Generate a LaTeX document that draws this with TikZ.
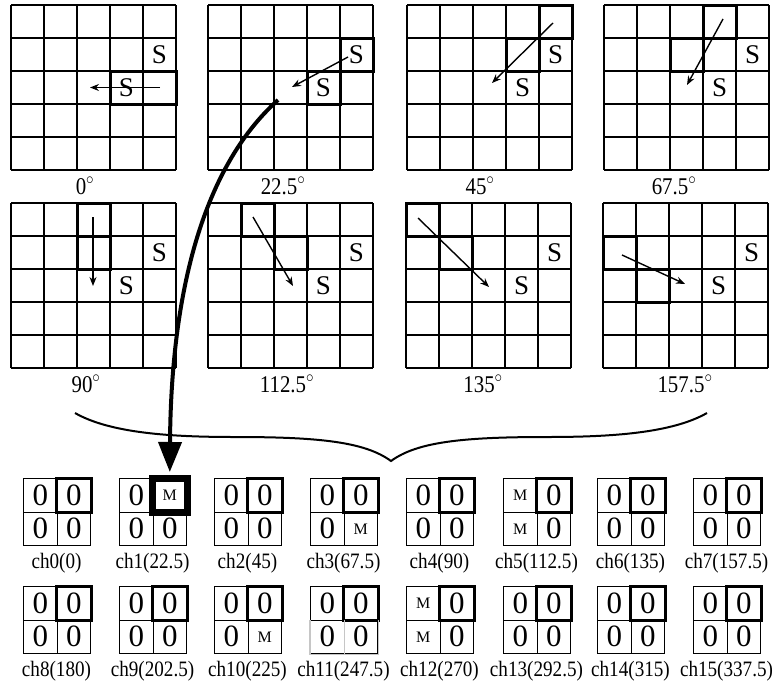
\documentclass[tikz,border=0pt]{standalone}
\usepackage{fontspec}
\usepackage{graphicx}
\setmainfont{Liberation Serif}
\usetikzlibrary{arrows.meta}
\tikzset{
  gridline/.style={line width=1.1pt, black},
  boldcell/.style={line width=3pt, line join=miter},
  sarrow/.style={line width=1.4pt, -{Stealth[length=9pt,width=7pt]}},
  bigarrow/.style={line width=4pt, -{Triangle[length=30pt,width=23pt]}},
  bracepath/.style={line width=2pt},
  slabel/.style={font=\fontsize{27}{27}\selectfont, inner sep=0pt},
  anglabel/.style={font=\fontsize{24}{24}\selectfont, inner sep=0pt, anchor=base},
  chlabel/.style={font=\fontsize{22}{22}\selectfont, inner sep=0pt},
  cellbox/.style={draw, line width=1.1pt, minimum size=33.5pt, inner sep=0pt, anchor=north west},
}
\newcommand\cond[1]{\scalebox{0.87}[1]{#1}}
\newcommand\zz{{\fontsize{31}{31}\selectfont 0}}
\newcommand\mm{{\fontsize{16}{16}\selectfont M}}
\newcommand\pixgrid{%
  \foreach \k in {0,...,5}{
    \draw[gridline] ({33*\k},0) -- ({33*\k},165);
    \draw[gridline] (0,{33*\k}) -- (165,{33*\k});
  }}
\newcommand\chbox[8]{%
  \node[cellbox] (#3tl) at ({#1},{#2}) {#4};
  \node[cellbox] (#3tr) at ({#1+33.5},{#2}) {#5};
  \node[cellbox] (#3bl) at ({#1},{#2+33.5}) {#6};
  \node[cellbox] (#3br) at ({#1+33.5},{#2+33.5}) {#7};
  \draw[boldcell] (#3tr.north west) rectangle (#3tr.south east);
  \node[chlabel] (#3lab) at ({#1+33.5},{#2+85}) {\cond{#8}};
}
\begin{document}
\begin{tikzpicture}[x=1pt,y=-1pt]
\useasboundingbox[fill=white] (0,0) rectangle (778,688);

% ---- 0 deg
\begin{scope}[shift={(11,5)}]
  \pixgrid
  \draw[boldcell] (99,66) rectangle (165,99);
  \node[slabel] (g0sa) at (148.5,49.5) {S};
  \node[slabel] (g0sb) at (115.5,82.5) {S};
  \coordinate (g0a) at (149,82.5); \coordinate (g0b) at (79,82.5);
  \draw[sarrow] (g0a) -- (g0b);
  \node[anglabel] (g0lab) at (74,189) {\cond{0$^{\circ}$}};
\end{scope}
% ---- 22.5 deg
\begin{scope}[shift={(208,5)}]
  \pixgrid
  \draw[boldcell] (132,33) rectangle (165,66);
  \draw[boldcell] (99,66) rectangle (132,99);
  \node[slabel] (g1sa) at (148.5,49.5) {S};
  \node[slabel] (g1sb) at (115.5,82.5) {S};
  \coordinate (g1a) at (140,52); \coordinate (g1b) at (84,82);
  \draw[sarrow] (g1a) -- (g1b);
  \node[anglabel] (g1lab) at (75,189) {\cond{22.5$^{\circ}$}};
  \coordinate (bigstart) at (70,95);
\end{scope}
% ---- 45 deg
\begin{scope}[shift={(407,5)}]
  \pixgrid
  \draw[boldcell] (132,0) rectangle (165,33);
  \draw[boldcell] (99,33) rectangle (132,66);
  \node[slabel] (g2sa) at (148.5,49.5) {S};
  \node[slabel] (g2sb) at (115.5,82.5) {S};
  \coordinate (g2a) at (146,18); \coordinate (g2b) at (85,78);
  \draw[sarrow] (g2a) -- (g2b);
  \node[anglabel] (g2lab) at (73,189) {\cond{45$^{\circ}$}};
\end{scope}
% ---- 67.5 deg
\begin{scope}[shift={(604,5)}]
  \pixgrid
  \draw[boldcell] (99,0) rectangle (132,33);
  \draw[boldcell] (66,33) rectangle (99,66);
  \node[slabel] (g3sa) at (148.5,49.5) {S};
  \node[slabel] (g3sb) at (115.5,82.5) {S};
  \coordinate (g3a) at (119,14); \coordinate (g3b) at (83,80);
  \draw[sarrow] (g3a) -- (g3b);
  \node[anglabel] (g3lab) at (70,189) {\cond{67.5$^{\circ}$}};
\end{scope}
% ---- 90 deg
\begin{scope}[shift={(11,203)}]
  \pixgrid
  \draw[boldcell] (66,0) rectangle (99,66);
  \draw[boldcell] (66,33) -- (99,33);
  \node[slabel] (g4sa) at (148.5,49.5) {S};
  \node[slabel] (g4sb) at (115.5,82.5) {S};
  \coordinate (g4a) at (82,14); \coordinate (g4b) at (82,83);
  \draw[sarrow] (g4a) -- (g4b);
  \node[anglabel] (g4lab) at (75,189) {\cond{90$^{\circ}$}};
\end{scope}
% ---- 112.5 deg
\begin{scope}[shift={(208,203)}]
  \pixgrid
  \draw[boldcell] (33,0) rectangle (66,33);
  \draw[boldcell] (66,33) rectangle (99,66);
  \node[slabel] (g5sa) at (148.5,49.5) {S};
  \node[slabel] (g5sb) at (115.5,82.5) {S};
  \coordinate (g5a) at (45,14); \coordinate (g5b) at (85,83);
  \draw[sarrow] (g5a) -- (g5b);
  \node[anglabel] (g5lab) at (79,189) {\cond{112.5$^{\circ}$}};
\end{scope}
% ---- 135 deg
\begin{scope}[shift={(406,203)}]
  \pixgrid
  \draw[boldcell] (0,0) rectangle (33,33);
  \draw[boldcell] (33,33) rectangle (66,66);
  \node[slabel] (g6sa) at (148.5,49.5) {S};
  \node[slabel] (g6sb) at (115.5,82.5) {S};
  \coordinate (g6a) at (12,15); \coordinate (g6b) at (83,84);
  \draw[sarrow] (g6a) -- (g6b);
  \node[anglabel] (g6lab) at (77,189) {\cond{135$^{\circ}$}};
\end{scope}
% ---- 157.5 deg
\begin{scope}[shift={(603,203)}]
  \pixgrid
  \draw[boldcell] (0,33) rectangle (33,66);
  \draw[boldcell] (33,66) rectangle (66,99);
  \node[slabel] (g7sa) at (148.5,49.5) {S};
  \node[slabel] (g7sb) at (115.5,82.5) {S};
  \coordinate (g7a) at (19,52); \coordinate (g7b) at (82,81);
  \draw[sarrow] (g7a) -- (g7b);
  \node[anglabel] (g7lab) at (82,189) {\cond{157.5$^{\circ}$}};
\end{scope}

% ---- brace
\draw[bracepath] (75,413) .. controls (110,433) and (170,437) .. (235,437)
  .. controls (320,437) and (365,442) .. (391,461)
  .. controls (417,442) and (462,437) .. (547,437)
  .. controls (612,437) and (672,433) .. (707,413);

% ---- channels row 1
\chbox{23}{478}{cha}{\zz}{\zz}{\zz}{\zz}{ch0(0)}
\chbox{119}{478}{chb}{\zz}{\mm}{\zz}{\zz}{ch1(22.5)}
\chbox{214}{478}{chc}{\zz}{\zz}{\zz}{\zz}{ch2(45)}
\chbox{310}{478}{chd}{\zz}{\zz}{\zz}{\mm}{ch3(67.5)}
\chbox{406}{478}{che}{\zz}{\zz}{\zz}{\zz}{ch4(90)}
\chbox{503}{478}{chf}{\mm}{\zz}{\mm}{\zz}{ch5(112.5)}
\chbox{597}{478}{chg}{\zz}{\zz}{\zz}{\zz}{ch6(135)}
\chbox{693}{478}{chh}{\zz}{\zz}{\zz}{\zz}{ch7(157.5)}
% ---- channels row 2
\chbox{23}{586}{chi}{\zz}{\zz}{\zz}{\zz}{ch8(180)}
\chbox{119}{586}{chj}{\zz}{\zz}{\zz}{\zz}{ch9(202.5)}
\chbox{214}{586}{chk}{\zz}{\zz}{\zz}{\mm}{ch10(225)}
\chbox{310}{586}{chl}{\zz}{\zz}{\zz}{\zz}{ch11(247.5)}
\chbox{406}{586}{chm}{\mm}{\zz}{\mm}{\zz}{ch12(270)}
\chbox{503}{586}{chn}{\zz}{\zz}{\zz}{\zz}{ch13(292.5)}
\chbox{597}{586}{cho}{\zz}{\zz}{\zz}{\zz}{ch14(315)}
\chbox{693}{586}{chp}{\zz}{\zz}{\zz}{\zz}{ch15(337.5)}

% ch1 thick frame, ch11 faint lower lines
\draw[line width=7pt] (chbtr.north west) rectangle (chbtr.south east);
\draw[line width=1.2pt, gray!45] (chlbl.north west) -- (chlbl.south west) -- (chlbr.south east) -- (chlbr.north east);
\draw[line width=1.2pt, gray!45] (chlbl.north east) -- (chlbl.south east);

% ---- big arrow
\draw[bigarrow] (bigstart) .. controls (200,170) and (171,300) .. ([yshift=6pt]chbtr.north);
\end{tikzpicture}
\end{document}
